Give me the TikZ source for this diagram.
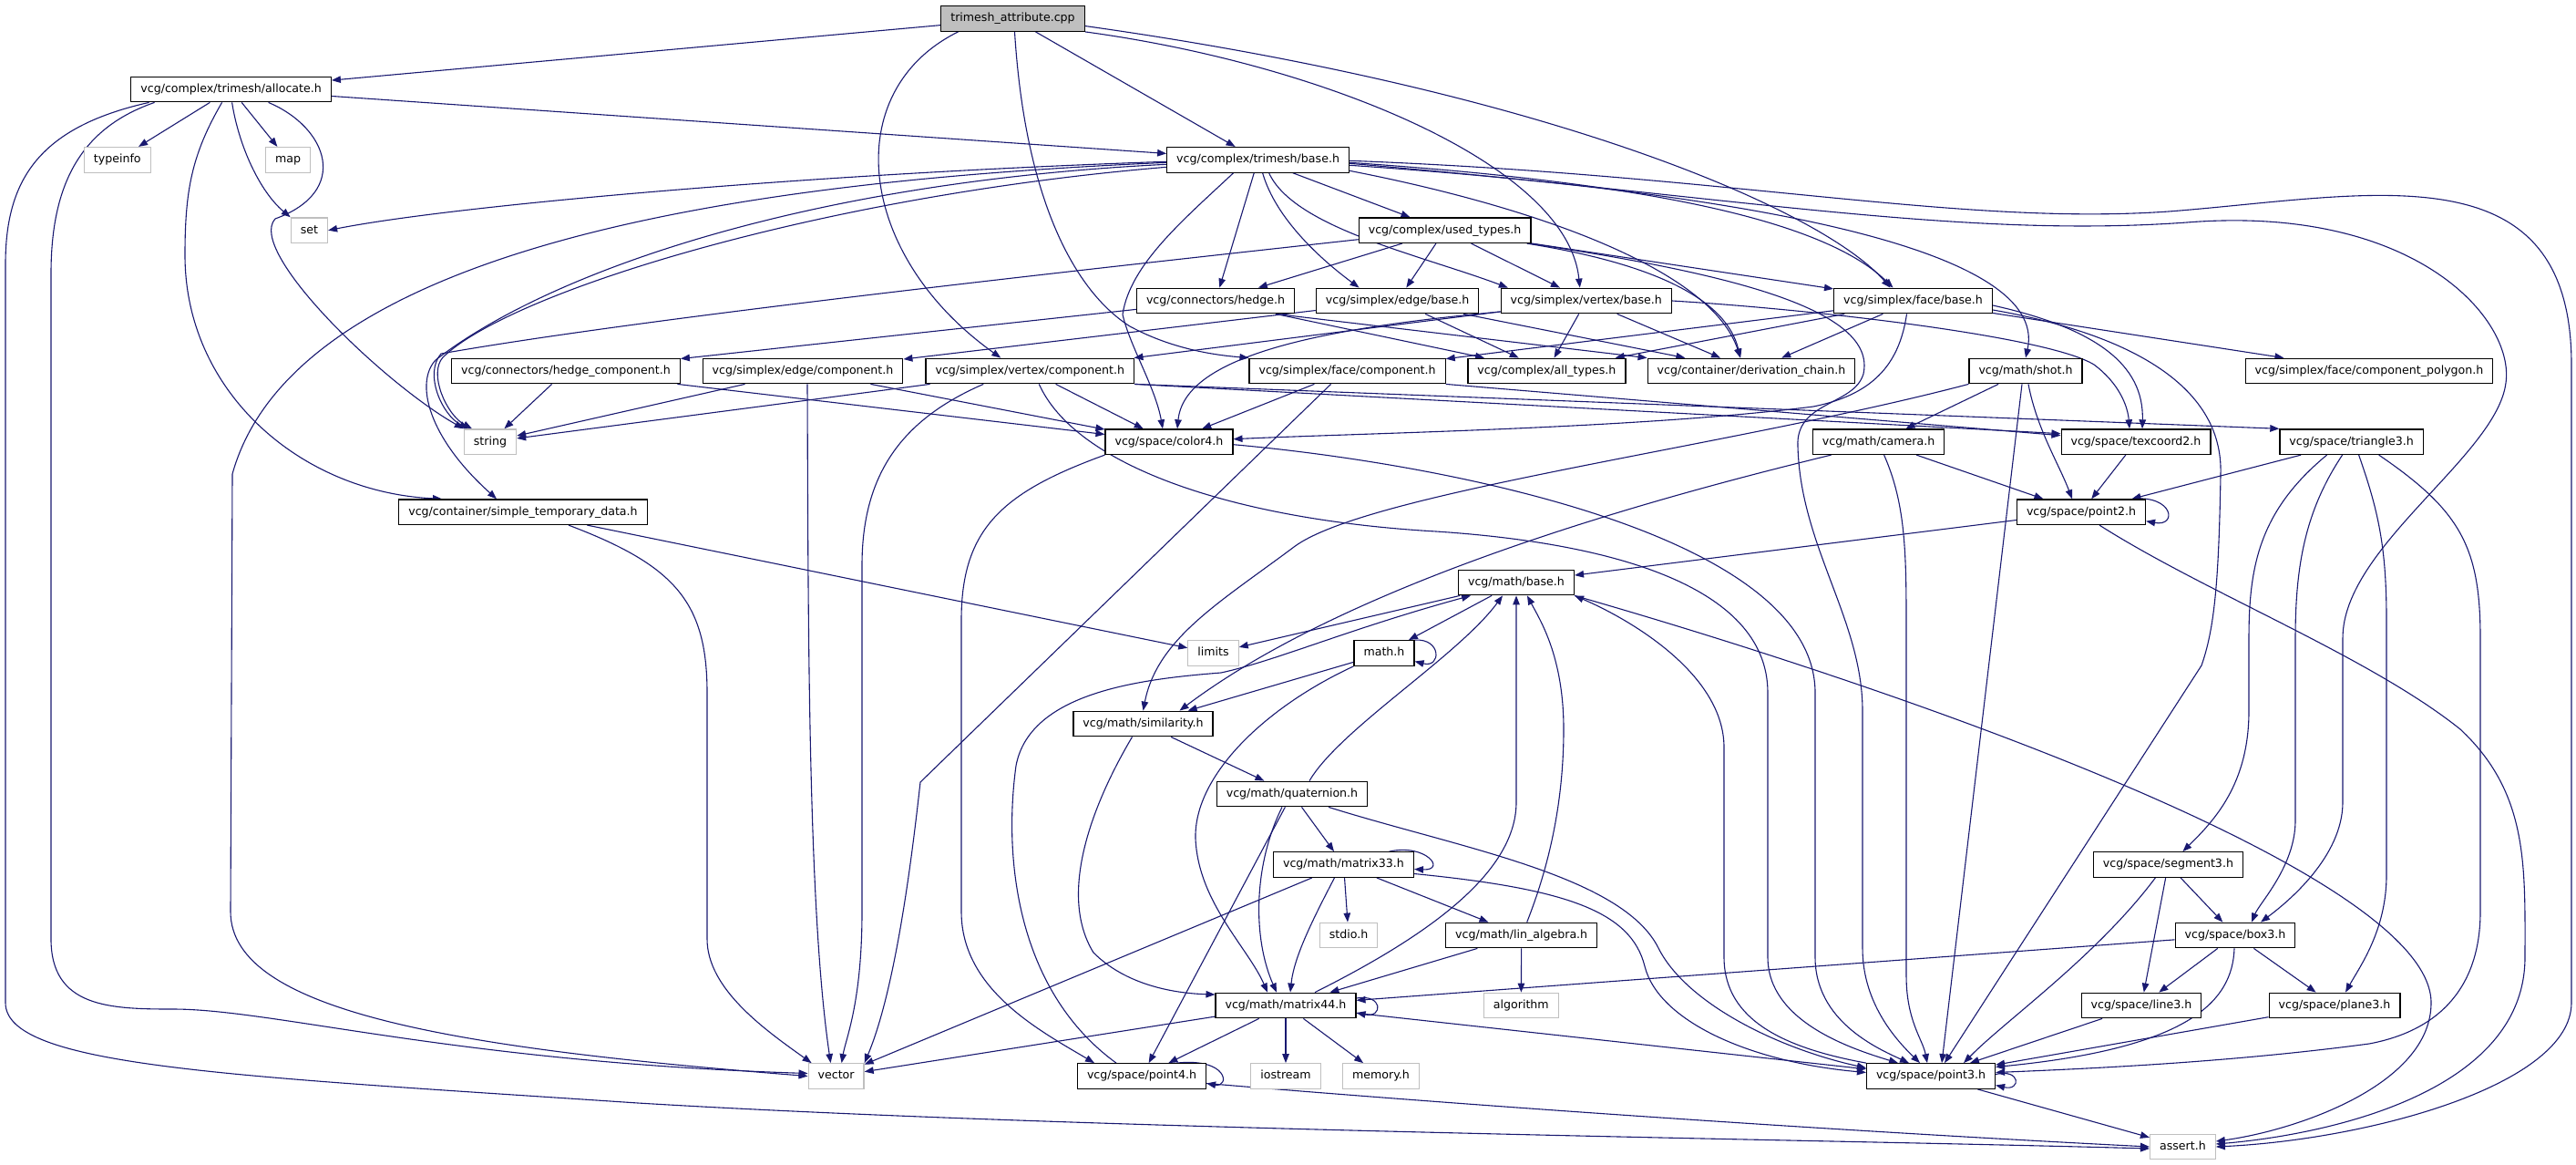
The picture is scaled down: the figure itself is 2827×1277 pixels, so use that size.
\documentclass[tikz,border=0pt]{standalone}
\usepackage{fontspec}
\setmainfont{DejaVu Sans}
\usepackage{xcolor}
\usepackage{tikz}
\usetikzlibrary{arrows.meta}
\definecolor{edgeblue}{RGB}{25,25,112}
\definecolor{sysgray}{RGB}{191,191,191}
\pgfdeclarelayer{edges}
\pgfsetlayers{edges,main}

\begin{document}
\begin{tikzpicture}[x=1pt, y=-1pt,
    hdr/.style={draw=black, line width=1.2pt, fill=white, minimum height=27.6pt,
      inner xsep=10.5pt, inner ysep=0pt, text height=9.5pt, text depth=2.6pt,
      font=\fontsize{12.6pt}{15pt}\selectfont},
    sys/.style={hdr, draw=sysgray},
    src/.style={hdr, fill=sysgray},
    dep/.style={edgeblue, line width=1.1pt, -{Triangle[length=10pt, width=7.5pt]}}]
  \useasboundingbox (0,0) rectangle (2827,1277);

  % Top of the include tree
  \node[src] (cpp) at (1111.5,20.5) {trimesh\_attribute.cpp};
  \node[hdr] (alloc) at (253.6,98) {vcg/complex/trimesh/allocate.h};
  \node[hdr] (tmbase) at (1380.6,175.3) {vcg/complex/trimesh/base.h};
  \node[sys] (typeinfo) at (128.8,175.3) {typeinfo};
  \node[sys] (map) at (316,175.3) {map};
  \node[sys] (set) at (339.4,252.7) {set};
  \node[hdr] (usedtypes) at (1585.6,252.7) {vcg/complex/used\_types.h};

  % Simplex and connector headers
  \node[hdr] (hedge) at (1334,330) {vcg/connectors/hedge.h};
  \node[hdr] (edgebase) at (1533.6,330) {vcg/simplex/edge/base.h};
  \node[hdr] (vertbase) at (1740.8,330) {vcg/simplex/vertex/base.h};
  \node[hdr] (facebase) at (2099.5,330) {vcg/simplex/face/base.h};
  \node[hdr] (hedgecomp) at (621,407) {vcg/connectors/hedge\_component.h};
  \node[hdr] (edgecomp) at (881,407) {vcg/simplex/edge/component.h};
  \node[hdr] (vertcomp) at (1130.3,407) {vcg/simplex/vertex/component.h};
  \node[hdr] (facecomp) at (1478.6,407) {vcg/simplex/face/component.h};
  \node[hdr] (alltypes) at (1697.4,407) {vcg/complex/all\_types.h};
  \node[hdr] (derchain) at (1922,407) {vcg/container/derivation\_chain.h};
  \node[hdr] (shot) at (2223,407) {vcg/math/shot.h};
  \node[hdr] (polygon) at (2600,407) {vcg/simplex/face/component\_polygon.h};

  % Space and math headers
  \node[sys] (string) at (538,484.7) {string};
  \node[hdr] (color4) at (1283,484.7) {vcg/space/color4.h};
  \node[hdr] (camera) at (2061.6,484.7) {vcg/math/camera.h};
  \node[hdr] (texcoord) at (2344,484.7) {vcg/space/texcoord2.h};
  \node[hdr] (triangle) at (2580.6,484.7) {vcg/space/triangle3.h};
  \node[hdr] (tempdata) at (574,561.7) {vcg/container/simple\_temporary\_data.h};
  \node[hdr] (point2) at (2284,561.7) {vcg/space/point2.h};
  \node[hdr] (mathbase) at (1664,639) {vcg/math/base.h};
  \node[sys] (limits) at (1331.5,716.5) {limits};
  \node[hdr] (mathh) at (1519,716.5) {math.h};
  \node[hdr] (similarity) at (1254.5,794) {vcg/math/similarity.h};
  \node[hdr] (quaternion) at (1418,871) {vcg/math/quaternion.h};
  \node[hdr] (matrix33) at (1474.5,948.5) {vcg/math/matrix33.h};
  \node[hdr] (segment3) at (2379.4,948.5) {vcg/space/segment3.h};
  \node[sys] (stdio) at (1480,1026) {stdio.h};
  \node[hdr] (linalg) at (1669.7,1026) {vcg/math/lin\_algebra.h};
  \node[hdr] (box3) at (2453,1026) {vcg/space/box3.h};
  \node[hdr] (matrix44) at (1411,1103) {vcg/math/matrix44.h};
  \node[sys] (algorithm) at (1669.3,1103) {algorithm};
  \node[hdr] (line3) at (2350,1103) {vcg/space/line3.h};
  \node[hdr] (plane3) at (2562,1103) {vcg/space/plane3.h};
  \node[sys] (vector) at (917.6,1180.5) {vector};
  \node[hdr] (point4) at (1253,1180.5) {vcg/space/point4.h};
  \node[sys] (iostream) at (1411,1180.5) {iostream};
  \node[sys] (memory) at (1515.5,1180.5) {memory.h};
  \node[hdr] (point3) at (2119,1180.5) {vcg/space/point3.h};
  \node[sys] (assert) at (2395.4,1258) {assert.h};

  \begin{pgfonlayer}{edges}
  % trimesh_attribute.cpp
  \draw[dep] (cpp) -- (alloc);
  \draw[dep] (cpp) -- (tmbase);
  \draw[dep] ([xshift=-60pt]cpp.south) .. controls (920,100) and (940,280) .. ([xshift=-32pt]vertcomp.north);
  \draw[dep] ([xshift=2pt]cpp.south) .. controls (1125,220) and (1180,320) .. (1240,358) .. controls (1290,385) and (1340,390) .. (facecomp.north west);
  \draw[dep] (cpp.south east) .. controls (1450,70) and (1720,180) .. ([xshift=-7pt]vertbase.north);
  \draw[dep] ([yshift=-8pt]cpp.east) .. controls (1700,100) and (2000,230) .. ([xshift=-25pt]facebase.north);

  % allocate.h
  \draw[dep] (alloc) -- (tmbase);
  \draw[dep] (alloc) -- (typeinfo);
  \draw[dep] (alloc) -- (map);
  \draw[dep] ([xshift=1pt]alloc.south) .. controls (262,160) and (285,210) .. (set.north west);
  \draw[dep] ([xshift=41pt]alloc.south) .. controls (360,140) and (385,210) .. (302,240) .. controls (270,275) and (420,420) .. (string.north west);
  \draw[dep] ([xshift=-84pt]alloc.south) .. controls (90,140) and (56,200) .. (56,300) -- (56,1030) .. controls (56,1105) and (120,1107) .. (190,1107) .. controls (300,1107) and (500,1165) .. ([yshift=3pt]vector.west);
  \draw[dep] ([xshift=-90pt]alloc.south) .. controls (40,140) and (6,200) .. (6,290) -- (6,1100) .. controls (6,1170) and (250,1180) .. (700,1210) .. controls (1200,1240) and (2000,1250) .. ([yshift=-2pt]assert.west);
  \draw[dep] ([xshift=-10pt]alloc.south) .. controls (210,170) and (203,210) .. (203,280) .. controls (203,430) and (330,540) .. ([xshift=-89pt]tempdata.north);

  % trimesh/base.h
  \draw[dep] ([yshift=-2pt]tmbase.west) .. controls (900,190) and (500,225) .. (set.east);
  \draw[dep] ([yshift=-3pt]tmbase.west) .. controls (900,195) and (330,250) .. (255,520) -- (253,1000) .. controls (253,1110) and (500,1150) .. (vector.west);
  \draw[dep] ([yshift=-8pt]tmbase.west) .. controls (900,215) and (560,320) .. (486,392) .. controls (470,410) and (490,455) .. ([xshift=-20pt]string.north);
  \draw[dep] ([yshift=-5pt]tmbase.west) .. controls (880,200) and (600,300) .. (478,395) .. controls (455,420) and (470,480) .. ([xshift=-29pt]tempdata.north);
  \draw[dep] (tmbase) -- (usedtypes);
  \draw[dep] (tmbase) -- (hedge);
  \draw[dep] ([xshift=5pt]tmbase.south) .. controls (1400,240) and (1450,285) .. ([xshift=-42pt]edgebase.north);
  \draw[dep] ([xshift=12pt]tmbase.south) .. controls (1420,250) and (1560,280) .. ([xshift=-86pt]vertbase.north);
  \draw[dep] ([xshift=-27pt]tmbase.south) .. controls (1300,240) and (1240,290) .. (1232,345) .. controls (1240,380) and (1268,425) .. ([xshift=-7pt]color4.north);
  \draw[dep] ([yshift=-12pt]tmbase.east) .. controls (1700,230) and (1880,300) .. ([xshift=-12pt]derchain.north);
  \draw[dep] ([yshift=-3pt]tmbase.east) .. controls (1800,200) and (2000,240) .. ([xshift=-22pt]facebase.north);
  \draw[dep] ([yshift=-6pt]tmbase.east) .. controls (1900,210) and (2250,270) .. (shot.north);
  \draw[dep] ([yshift=-4pt]tmbase.east) .. controls (1900,215) and (2150,262) .. (2400,244) .. controls (2650,224) and (2760,350) .. (2750,420) .. controls (2740,500) and (2571,600) .. (2571,700) -- (2571,880) .. controls (2571,940) and (2510,990) .. ([xshift=28pt]box3.north);
  \draw[dep] ([yshift=-1pt]tmbase.east) .. controls (1900,192) and (2150,248) .. (2380,232) .. controls (2600,215) and (2822,160) .. (2822,400) -- (2822,1100) .. controls (2822,1190) and (2600,1250) .. (assert.east);

  % used_types.h
  \draw[dep] (usedtypes) -- (hedge);
  \draw[dep] (usedtypes) -- (edgebase);
  \draw[dep] (usedtypes) -- (vertbase);
  \draw[dep] (usedtypes) -- (facebase);
  \draw[dep] ([xshift=90pt]usedtypes.south) .. controls (1820,290) and (1895,330) .. ([xshift=-12pt]derchain.north);
  \draw[dep] ([yshift=-10pt]usedtypes.west) .. controls (1150,300) and (700,350) .. (484,388) .. controls (465,410) and (485,455) .. ([xshift=-24pt]string.north);
  \draw[dep] ([xshift=93pt]usedtypes.south) .. controls (1900,300) and (2060,340) .. (2045,410) .. controls (2035,445) and (1970,440) .. (1973,490) .. controls (1976,600) and (2044,680) .. (2044,780) -- (2044,1040) .. controls (2044,1100) and (2080,1140) .. ([xshift=-12pt]point3.north);

  % simplex bases
  \draw[dep] (hedge) -- (hedgecomp);
  \draw[dep] ([xshift=66pt]hedge.south) -- (alltypes);
  \draw[dep] ([xshift=66pt]hedge.south) -- (derchain.north west);
  \draw[dep] (edgebase) -- (edgecomp);
  \draw[dep] (edgebase) -- (alltypes);
  \draw[dep] (edgebase) -- (derchain);
  \draw[dep] (vertbase) -- (vertcomp);
  \draw[dep] (vertbase) -- (alltypes);
  \draw[dep] (vertbase) -- (derchain);
  \draw[dep] ([yshift=-12pt]vertbase.west) .. controls (1450,360) and (1300,390) .. ([xshift=9pt]color4.north);
  \draw[dep] (vertbase.east) .. controls (2000,340) and (2250,370) .. (2298,400) .. controls (2325,420) and (2335,445) .. ([xshift=-7pt]texcoord.north);
  \draw[dep] (facebase) -- (facecomp);
  \draw[dep] (facebase) -- (alltypes);
  \draw[dep] (facebase) -- (derchain);
  \draw[dep] (facebase) -- (polygon);
  \draw[dep] ([xshift=-7pt]facebase.south) .. controls (2085,395) and (2060,432) .. (1990,446) .. controls (1800,470) and (1500,475) .. ([yshift=3pt]color4.east);
  \draw[dep] ([yshift=-5pt]facebase.east) .. controls (2300,360) and (2353,400) .. ([xshift=7pt]texcoord.north);
  \draw[dep] ([yshift=-10pt]facebase.east) .. controls (2330,365) and (2440,420) .. (2437,520) .. controls (2435,640) and (2430,690) .. (2416,730) -- ([xshift=15pt]point3.north);

  % components
  \draw[dep] (hedgecomp) -- (string);
  \draw[dep] (hedgecomp) -- (color4);
  \draw[dep] (edgecomp) -- (string);
  \draw[dep] (edgecomp) -- (color4);
  \draw[dep] ([xshift=5pt]edgecomp.south) .. controls (887,700) and (887,1000) .. ([xshift=-6pt]vector.north);
  \draw[dep] (vertcomp) -- (string);
  \draw[dep] (vertcomp) -- (color4);
  \draw[dep] ([xshift=-51pt]vertcomp.south) .. controls (990,460) and (946,520) .. (946,620) -- (946,1000) .. controls (946,1100) and (928,1140) .. ([xshift=6pt]vector.north);
  \draw[dep] (vertcomp.south east) -- ([yshift=9pt]texcoord.west);
  \draw[dep] (vertcomp.south east) -- (triangle.north west);
  \draw[dep] ([xshift=10pt]vertcomp.south) .. controls (1180,510) and (1350,570) .. (1576,583) .. controls (1760,595) and (1940,640) .. (1940,760) -- (1940,1050) .. controls (1940,1120) and (2030,1150) .. ([xshift=-36pt]point3.north);
  \draw[dep] (facecomp) -- (color4);
  \draw[dep] ([xshift=-18pt]facecomp.south) -- (1010,858) .. controls (1003,920) and (985,1080) .. (vector.north east);
  \draw[dep] (facecomp.south east) -- ([yshift=7pt]texcoord.west);

  % containers, color, camera
  \draw[dep] ([xshift=50pt]tempdata.south) .. controls (740,620) and (776,660) .. (776,760) -- (776,1030) .. controls (776,1085) and (840,1130) .. ([xshift=-27pt]vector.north);
  \draw[dep] (tempdata) -- (limits);
  \draw[dep] (color4.south west) .. controls (1100,540) and (1055,580) .. (1055,680) -- (1055,1000) .. controls (1055,1085) and (1140,1130) .. ([xshift=-52pt]point4.north);
  \draw[dep] ([yshift=-3pt]color4.east) .. controls (1600,510) and (1992,590) .. (1992,760) -- (1992,1050) .. controls (1992,1120) and (2060,1150) .. ([xshift=-24pt]point3.north);
  \draw[dep] (shot) -- (camera);
  \draw[dep] ([xshift=3pt]shot.south) .. controls (2235,470) and (2260,510) .. ([xshift=-10pt]point2.north);
  \draw[dep] ([xshift=-4pt]shot.south) -- ([xshift=12pt]point3.north);
  \draw[dep] (shot.south west) .. controls (1900,490) and (1500,540) .. (1420,600) .. controls (1340,660) and (1270,700) .. (similarity.north);
  \draw[dep] (camera) -- (point2);
  \draw[dep] ([xshift=6pt]camera.south) .. controls (2090,550) and (2092,600) .. (2092,680) -- (2092,1070) .. controls (2092,1120) and (2110,1140) .. ([xshift=-4pt]point3.north);
  \draw[dep] ([xshift=-52pt]camera.south) .. controls (1800,550) and (1480,640) .. ([xshift=40pt]similarity.north);
  \draw[dep] (texcoord) -- (point2);

  % point2 and math/base.h
  \draw[dep] (point2) -- (mathbase);
  \draw[dep] ([xshift=20pt]point2.south) .. controls (2420,650) and (2600,720) .. (2700,800) .. controls (2775,870) and (2771,950) .. (2771,1050) .. controls (2771,1200) and (2550,1245) .. ([yshift=3pt]assert.east);
  \draw[dep] ([xshift=57pt]point2.north) .. controls (2385,543) and (2390,578) .. ([yshift=-10pt]point2.east);
  \draw[dep] (mathbase) -- (limits);
  \draw[dep] (mathbase) -- (mathh);
  \draw[dep] (mathbase.south east) .. controls (2100,760) and (2668,960) .. (2668,1100) .. controls (2668,1190) and (2520,1240) .. ([yshift=6pt]assert.east);
  \draw[dep] (mathh) -- (similarity);
  \draw[dep] (mathh.south west) .. controls (1390,775) and (1310,850) .. (1312,920) .. controls (1315,990) and (1370,1040) .. ([xshift=-20pt]matrix44.north);
  \draw[dep] (mathh.north east) .. controls (1582,700) and (1582,733) .. ([yshift=-9pt]mathh.east);

  % similarity, quaternion, matrices
  \draw[dep] (similarity) -- (quaternion);
  \draw[dep] ([xshift=-12pt]similarity.south) .. controls (1200,880) and (1160,980) .. (1200,1045) .. controls (1240,1085) and (1300,1090) .. ([yshift=12pt]matrix44.west);
  \draw[dep] (quaternion) -- (matrix33);
  \draw[dep] ([xshift=-11pt]quaternion.south) .. controls (1375,950) and (1375,1030) .. ([xshift=-10pt]matrix44.north);
  \draw[dep] (quaternion) -- (point4);
  \draw[dep] ([xshift=40pt]quaternion.south) .. controls (1600,930) and (1780,960) .. (1820,1040) .. controls (1850,1100) and (1950,1150) .. ([yshift=9pt]point3.west);
  \draw[dep] ([xshift=19pt]quaternion.north) .. controls (1470,800) and (1600,720) .. ([xshift=-15pt]mathbase.south);
  \draw[dep] (matrix33) -- (vector);
  \draw[dep] ([xshift=-10pt]matrix33.south) .. controls (1440,1010) and (1420,1050) .. ([xshift=5pt]matrix44.north);
  \draw[dep] (matrix33) -- (stdio);
  \draw[dep] (matrix33) -- (linalg);
  \draw[dep] ([yshift=-10pt]matrix33.east) .. controls (1720,975) and (1790,1000) .. (1805,1060) .. controls (1820,1120) and (1920,1165) .. ([yshift=4pt]point3.west);
  \draw[dep] ([xshift=50pt]matrix33.north) .. controls (1565,925) and (1588,955) .. ([yshift=-5pt]matrix33.east);
  \draw[dep] (linalg) -- (matrix44);
  \draw[dep] (linalg) -- (algorithm);
  \draw[dep] ([xshift=6pt]linalg.north) .. controls (1700,950) and (1716,880) .. (1716,800) .. controls (1716,720) and (1690,680) .. ([xshift=12pt]mathbase.south);
  \draw[dep] (matrix44) -- (vector);
  \draw[dep] (matrix44) -- (point4);
  \draw[dep] (matrix44) -- (iostream);
  \draw[dep] (matrix44) -- (memory);
  \draw[dep] (matrix44) -- (point3);
  \draw[dep] ([xshift=32pt]matrix44.north) .. controls (1560,1030) and (1664,960) .. (1664,880) -- (mathbase.south);
  \draw[dep] ([yshift=8pt]matrix44.east) .. controls (1518,1090) and (1518,1117) .. ([yshift=-8pt]matrix44.east);

  % point4 and point3
  \draw[dep] ([xshift=-28pt]point4.north) .. controls (1120,1090) and (1100,950) .. (1115,840) .. controls (1130,760) and (1250,745) .. (1340,738) .. controls (1400,725) and (1480,690) .. ([xshift=-50pt]mathbase.south);
  \draw[dep] ([yshift=-8pt]point4.east) .. controls (1700,1220) and (2100,1245) .. (assert.west);
  \draw[dep] ([xshift=38pt]point4.north) .. controls (1348,1160) and (1350,1193) .. ([yshift=-8pt]point4.east);
  \draw[dep] (point3.north west) .. controls (1960,1150) and (1892,1120) .. (1892,1050) -- (1892,820) .. controls (1892,740) and (1790,680) .. (mathbase.south east);
  \draw[dep] (point3) -- (assert);
  \draw[dep] ([yshift=2pt]point3.east) .. controls (2218,1172) and (2218,1197) .. ([yshift=-10pt]point3.east);

  % triangle3.h and friends
  \draw[dep] (triangle) -- (point2);
  \draw[dep] ([xshift=-27pt]triangle.south) .. controls (2480,560) and (2468,620) .. (2468,700) -- (2468,780) .. controls (2468,860) and (2430,900) .. ([xshift=16pt]segment3.north);
  \draw[dep] ([xshift=-10pt]triangle.south) .. controls (2530,560) and (2519,620) .. (2519,700) -- (2519,900) .. controls (2519,950) and (2480,990) .. ([xshift=18pt]box3.north);
  \draw[dep] ([xshift=8pt]triangle.south) .. controls (2610,560) and (2619,600) .. (2619,680) -- (2619,960) .. controls (2619,1020) and (2590,1060) .. ([xshift=12pt]plane3.north);
  \draw[dep] ([xshift=30pt]triangle.south) .. controls (2700,560) and (2722,600) .. (2722,700) -- (2722,1000) .. controls (2722,1080) and (2680,1130) .. (2600,1145) .. controls (2450,1165) and (2300,1172) .. ([yshift=4pt]point3.east);
  \draw[dep] (segment3) -- (box3);
  \draw[dep] (segment3) -- (line3);
  \draw[dep] ([xshift=-14pt]segment3.south) .. controls (2300,1050) and (2200,1120) .. ([xshift=36pt]point3.north);
  \draw[dep] (box3) -- (matrix44);
  \draw[dep] (box3) -- (line3);
  \draw[dep] (box3) -- (plane3);
  \draw[dep] ([xshift=-1pt]box3.south) .. controls (2450,1100) and (2400,1150) .. ([yshift=10pt]point3.east);
  \draw[dep] (line3) -- (point3);
  \draw[dep] (plane3) -- (point3);
  \end{pgfonlayer}
\end{tikzpicture}
\end{document}
